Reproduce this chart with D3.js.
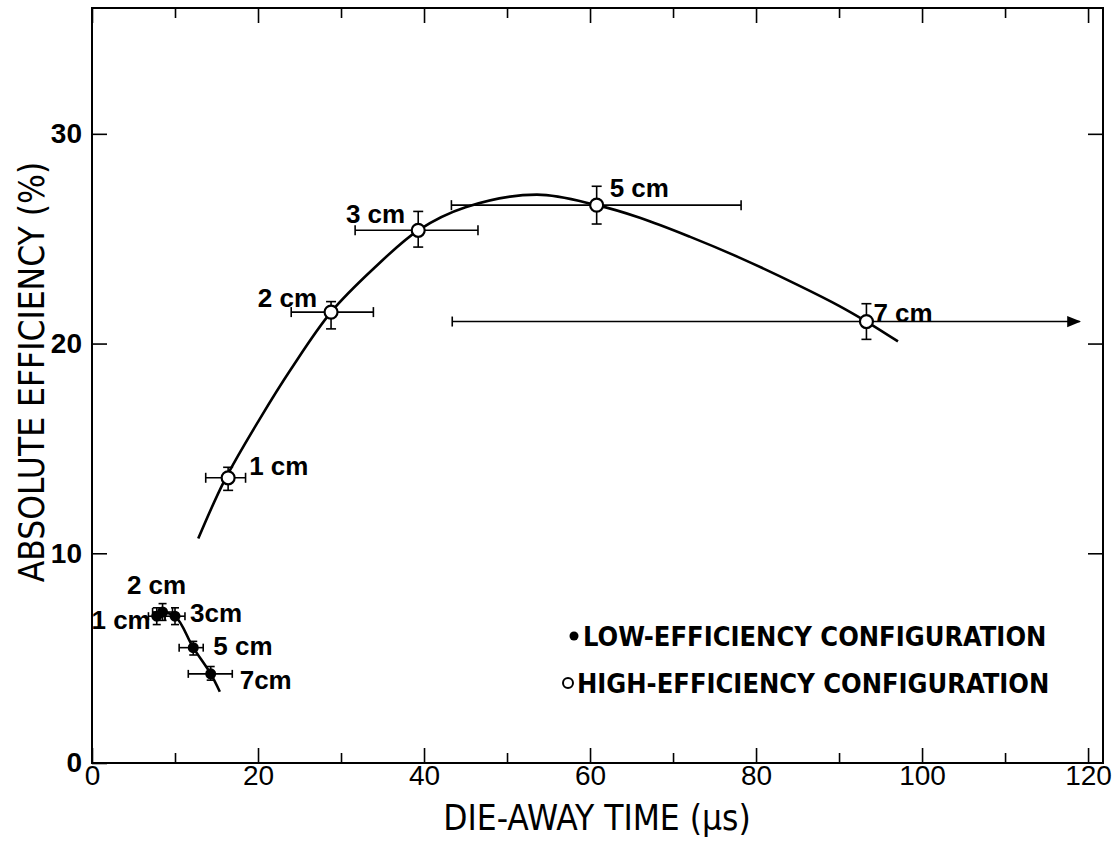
<!DOCTYPE html>
<html>
<head>
<meta charset="utf-8">
<script src="https://cdn.jsdelivr.net/npm/d3@7"></script>
<style>
  body { margin: 0; background: #fff; }
  svg { display: block; }
  .axis path { display: none; }
  .axis line { stroke: #000; stroke-width: 1.6px; }
  .ytick text { font-family: "Liberation Sans", Arial, sans-serif; font-weight: bold; font-size: 28px; fill: #000; }
  .xtick text { font-family: "Liberation Sans", Arial, sans-serif; font-size: 28px; fill: #000; }
  .title { font-family: "Liberation Sans Narrow", "DejaVu Sans Condensed", sans-serif; font-size: 35px; fill: #000; }
  .ptlabel { font-family: "Liberation Sans", Arial, sans-serif; font-weight: bold; font-size: 26px; fill: #000; }
  .legend { font-family: "Liberation Sans Narrow", "DejaVu Sans Condensed", sans-serif; font-weight: bold; font-size: 27px; fill: #000; }
</style>
</head>
<body>
<svg width="1118" height="851"></svg>
<script>
// high-efficiency configuration (open circles)
var highLabels = ['1 cm', '2 cm', '3 cm', '5 cm', '7 cm'];
var highTime   = [16.4, 28.8, 39.3, 60.8, 93.3];
var highEff    = [13.6, 21.5, 25.4, 26.6, 21.05];
var highTimeLo = [13.7, 24.0, 31.7, 43.3, 43.4];
var highTimeHi = [18.5, 33.9, 46.5, 78.2, 119];
var highEffLo  = [13.0, 20.7, 24.6, 25.7, 20.2];
var highEffHi  = [14.1, 22.0, 26.3, 27.5, 21.9];

// low-efficiency configuration (filled dots)
var lowLabels = ['1 cm', '2 cm', '3cm', '5 cm', '7cm'];
var lowTime   = [7.8, 8.5, 10.0, 12.2, 14.3];
var lowEff    = [7.0, 7.2, 7.0, 5.5, 4.25];
var lowTimeLo = [6.8, 7.3, 8.8, 10.5, 11.6];
var lowTimeHi = [8.8, 9.7, 11.2, 13.4, 16.9];
var lowEffLo  = [6.6, 6.8, 6.6, 5.15, 3.95];
var lowEffHi  = [7.4, 7.6, 7.4, 5.8, 4.6];

// hand-drawn fit curves
var highFitTime = [12.8, 16.0, 20.2, 24.0, 28.8, 34.0, 39.3, 45.0, 53.6, 60.8, 66.0, 72.0, 78.0, 85.0, 90.0, 93.3, 97.1];
var highFitEff  = [10.7, 13.5, 16.4, 18.8, 21.5, 23.6, 25.4, 26.5, 27.1, 26.6, 26.0, 25.1, 24.1, 22.8, 21.8, 21.05, 20.1];
var lowFitTime = [8.0, 10.0, 12.2, 14.3, 15.4];
var lowFitEff  = [7.2, 7.0, 5.5, 4.25, 3.4];

// ticks
var xMajor = [0, 20, 40, 60, 80, 100, 120];
var xMinor = [10, 30, 50, 70, 90, 110];
var yMajor = [0, 10, 20, 30];

var svg = d3.select('svg');
var box = {l: 92, r: 1103, t: 8, b: 763};

var xScale = d3.scaleLinear().domain([0, 121.8]).range([box.l, box.r]);
var yScale = d3.scaleLinear().domain([0, 36]).range([box.b, box.t]);

// frame
svg.append('rect')
    .attr('x', box.l).attr('y', box.t)
    .attr('width', box.r - box.l).attr('height', box.b - box.t)
    .attr('fill', 'none').attr('stroke', '#000').attr('stroke-width', 2);

// bottom axis, ticks pointing in
svg.append('g').attr('class', 'axis xtick')
    .attr('transform', 'translate(0,' + box.b + ')')
    .call(d3.axisBottom(xScale).tickValues(xMajor).tickSize(-15).tickPadding(2).tickFormat(d3.format('d')));
svg.append('g').attr('class', 'axis')
    .attr('transform', 'translate(0,' + box.b + ')')
    .call(d3.axisBottom(xScale).tickValues(xMinor).tickSize(-10).tickFormat(''));
// top axis
svg.append('g').attr('class', 'axis')
    .attr('transform', 'translate(0,' + box.t + ')')
    .call(d3.axisTop(xScale).tickValues(xMajor).tickSize(-15).tickFormat(''));
svg.append('g').attr('class', 'axis')
    .attr('transform', 'translate(0,' + box.t + ')')
    .call(d3.axisTop(xScale).tickValues(xMinor).tickSize(-10).tickFormat(''));
// left + right axes
svg.append('g').attr('class', 'axis ytick')
    .attr('transform', 'translate(' + box.l + ',0)')
    .call(d3.axisLeft(yScale).tickValues(yMajor).tickSize(-15).tickPadding(10).tickFormat(d3.format('d')));
svg.append('g').attr('class', 'axis')
    .attr('transform', 'translate(' + box.r + ',0)')
    .call(d3.axisRight(yScale).tickValues(yMajor.slice(1)).tickSize(-15).tickFormat(''));

// axis titles
svg.append('text')
    .attr('class', 'title')
    .attr('text-anchor', 'middle')
    .attr('transform', 'translate(' + [597, 830] + ')')
    .text('DIE-AWAY TIME (\u03bcs)');

svg.append('text')
    .attr('class', 'title')
    .attr('text-anchor', 'middle')
    .attr('transform', 'translate(' + [44, 372] + ') rotate(270)')
    .text('ABSOLUTE EFFICIENCY (%)');

// fit curves
var line = d3.line()
    .x(function(d) { return xScale(d[0]); })
    .y(function(d) { return yScale(d[1]); })
    .curve(d3.curveCatmullRom.alpha(0.5));

svg.append('path')
    .datum(d3.zip(highFitTime, highFitEff))
    .attr('d', line)
    .attr('fill', 'none').attr('stroke', '#000').attr('stroke-width', 2.6);

svg.append('path')
    .datum(d3.zip(lowFitTime, lowFitEff))
    .attr('d', line)
    .attr('fill', 'none').attr('stroke', '#000').attr('stroke-width', 2.6);

// arrow head for the open-ended 7 cm bar
svg.append('defs').append('marker')
    .attr('id', 'arrow')
    .attr('viewBox', '0 0 10 10')
    .attr('refX', 9).attr('refY', 5)
    .attr('markerWidth', 14).attr('markerHeight', 14)
    .attr('markerUnits', 'userSpaceOnUse')
    .attr('orient', 'auto')
    .append('path')
    .attr('d', 'M0,1 L10,5 L0,9 Z')
    .attr('fill', '#000');

function makeRows(labels, t, e, tLo, tHi, eLo, eHi) {
    return labels.map(function(l, i) {
        return {label: l, t: t[i], e: e[i], tLo: tLo[i], tHi: tHi[i], eLo: eLo[i], eHi: eHi[i]};
    });
}

var highData = makeRows(highLabels, highTime, highEff, highTimeLo, highTimeHi, highEffLo, highEffHi);
var lowData = makeRows(lowLabels, lowTime, lowEff, lowTimeLo, lowTimeHi, lowEffLo, lowEffHi);

function drawErrors(data, cap) {
    var g = svg.append('g').attr('stroke', '#000').attr('stroke-width', 1.6);
    data.forEach(function(d, i) {
        var cx = xScale(d.t), cy = yScale(d.e);
        var open = d.tHi >= 119;
        g.append('line')
            .attr('x1', xScale(d.tLo)).attr('x2', xScale(d.tHi))
            .attr('y1', cy).attr('y2', cy)
            .attr('marker-end', open ? 'url(#arrow)' : null);
        g.append('line')
            .attr('x1', xScale(d.tLo)).attr('x2', xScale(d.tLo))
            .attr('y1', cy - cap).attr('y2', cy + cap);
        if (!open) {
            g.append('line')
                .attr('x1', xScale(d.tHi)).attr('x2', xScale(d.tHi))
                .attr('y1', cy - cap).attr('y2', cy + cap);
        }
        g.append('line')
            .attr('x1', cx).attr('x2', cx)
            .attr('y1', yScale(d.eLo)).attr('y2', yScale(d.eHi));
        [d.eLo, d.eHi].forEach(function(v) {
            g.append('line')
                .attr('x1', cx - cap).attr('x2', cx + cap)
                .attr('y1', yScale(v)).attr('y2', yScale(v));
        });
    });
}

drawErrors(highData, 5);
drawErrors(lowData, 4);

svg.append('g').selectAll('circle')
    .data(highData).enter().append('circle')
    .attr('cx', function(d) { return xScale(d.t); })
    .attr('cy', function(d) { return yScale(d.e); })
    .attr('r', 6.5)
    .attr('fill', '#fff').attr('stroke', '#000').attr('stroke-width', 2.2);

svg.append('g').selectAll('circle')
    .data(lowData).enter().append('circle')
    .attr('cx', function(d) { return xScale(d.t); })
    .attr('cy', function(d) { return yScale(d.e); })
    .attr('r', 5.5)
    .attr('fill', '#000');

// point labels (pixel offsets from each point)
var highOffsets = [[21, -3, 'start'], [-14, -5, 'end'], [-13, -7, 'end'], [13, -8, 'start'], [7, 0, 'start']];
var lowOffsets = [[-6, 13, 'end'], [-6, -18, 'middle'], [15, 6, 'start'], [20, 7, 'start'], [29, 15, 'start']];

function drawLabels(data, offsets) {
    svg.append('g').selectAll('text')
        .data(data).enter().append('text')
        .attr('class', 'ptlabel')
        .attr('x', function(d, i) { return xScale(d.t) + offsets[i][0]; })
        .attr('y', function(d, i) { return yScale(d.e) + offsets[i][1]; })
        .attr('text-anchor', function(d, i) { return offsets[i][2]; })
        .text(function(d) { return d.label; });
}
drawLabels(highData, highOffsets);
drawLabels(lowData, lowOffsets);

// legend
var legend = svg.append('g').attr('transform', 'translate(568,0)');
legend.append('circle').attr('cx', 6).attr('cy', 636).attr('r', 4.5).attr('fill', '#000');
legend.append('text').attr('class', 'legend').attr('x', 15).attr('y', 646).text('LOW-EFFICIENCY CONFIGURATION');
legend.append('circle').attr('cx', 0).attr('cy', 683).attr('r', 5).attr('fill', '#fff').attr('stroke', '#000').attr('stroke-width', 2);
legend.append('text').attr('class', 'legend').attr('x', 9).attr('y', 693).text('HIGH-EFFICIENCY CONFIGURATION');
</script>
</body>
</html>
